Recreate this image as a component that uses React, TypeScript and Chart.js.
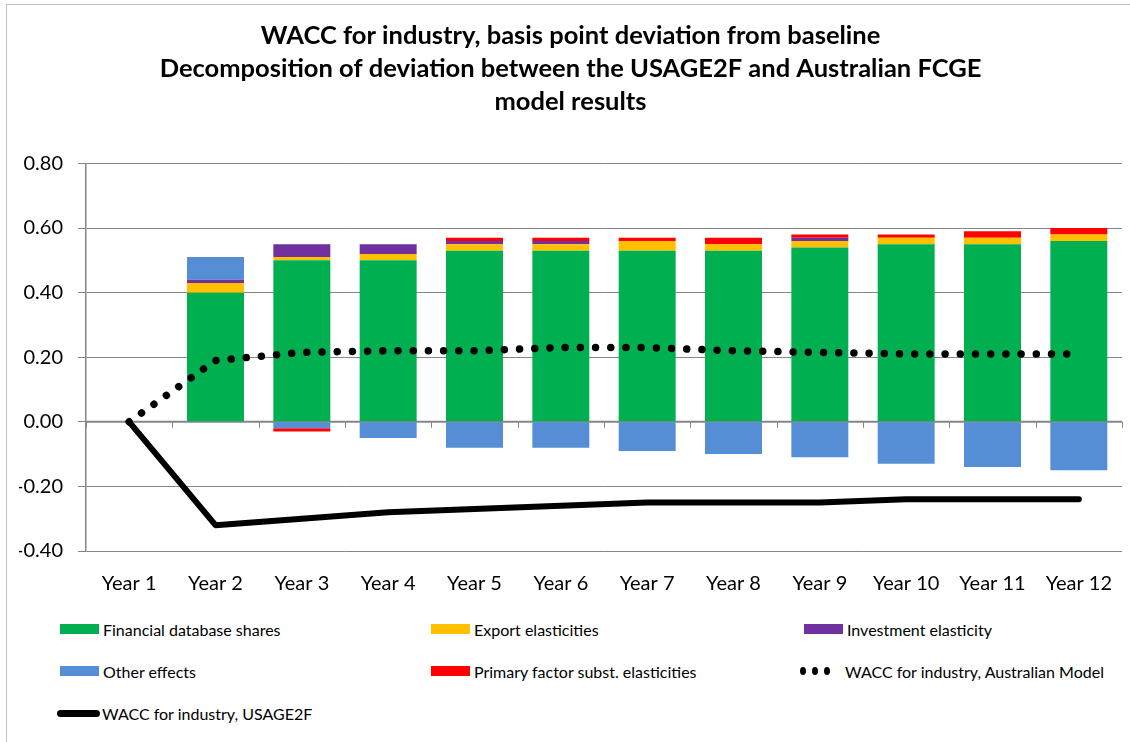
import React, { useEffect, useRef } from "react";
import { Chart, registerables } from "chart.js";

Chart.register(...registerables);

const categories = ["Year 1", "Year 2", "Year 3", "Year 4", "Year 5", "Year 6", "Year 7", "Year 8", "Year 9", "Year 10", "Year 11", "Year 12"];

const financialShares = [0, 0.40, 0.50, 0.50, 0.53, 0.53, 0.53, 0.53, 0.54, 0.55, 0.55, 0.56];
const exportElast = [0, 0.03, 0.01, 0.02, 0.02, 0.02, 0.03, 0.02, 0.02, 0.02, 0.02, 0.02];
const investElast = [0, 0.01, 0.04, 0.03, 0.01, 0.01, 0, 0, 0.01, 0, 0, 0];
const otherEffects = [0, 0.07, -0.02, -0.05, -0.08, -0.08, -0.09, -0.10, -0.11, -0.13, -0.14, -0.15];
const primaryFactor = [0, 0, -0.01, 0, 0.01, 0.01, 0.01, 0.02, 0.01, 0.01, 0.02, 0.02];
const waccAustralian = [0, 0.19, 0.215, 0.22, 0.22, 0.23, 0.23, 0.22, 0.215, 0.21, 0.21, 0.21];
const waccUsage2f = [0, -0.32, -0.30, -0.28, -0.27, -0.26, -0.25, -0.25, -0.25, -0.24, -0.24, -0.24];

const yTicks = [0.8, 0.6, 0.4, 0.2, 0, -0.2, -0.4];

const titleLines = [
  "WACC for industry, basis point deviation from baseline",
  "Decomposition of deviation between the USAGE2F and Australian FCGE",
  "model results",
];

const COLORS = {
  green: "#00B050",
  yellow: "#FFC000",
  purple: "#7030A0",
  blue: "#558ED5",
  red: "#FF0000",
};

const FONT = "Lato, 'Open Sans', sans-serif";

const zeroAxisPlugin = {
  id: "zeroAxis",
  beforeDatasetsDraw(chart: any) {
    const { ctx, chartArea, scales } = chart;
    const y0 = scales.y.getPixelForValue(0);
    ctx.save();
    ctx.strokeStyle = "#868686";
    ctx.lineWidth = 2;
    ctx.beginPath();
    ctx.moveTo(chartArea.left, y0);
    ctx.lineTo(chartArea.right, y0);
    ctx.stroke();
    ctx.lineWidth = 1;
    const xs = scales.x;
    for (let i = 0; i <= categories.length; i++) {
      const px = Math.round(xs.getPixelForValue(i - 0.5)) + 0.5;
      ctx.beginPath();
      ctx.moveTo(px, y0);
      ctx.lineTo(px, y0 + 6);
      ctx.stroke();
    }
    ctx.restore();
  },
};

type LegendItem = { label: string; kind: "box" | "dots" | "line"; color: string; x: number; y: number };

const legendItems: LegendItem[] = [
  { label: "Financial database shares", kind: "box", color: COLORS.green, x: 60, y: 629 },
  { label: "Export elasticities", kind: "box", color: COLORS.yellow, x: 431, y: 629 },
  { label: "Investment elasticity", kind: "box", color: COLORS.purple, x: 804, y: 629 },
  { label: "Other effects", kind: "box", color: COLORS.blue, x: 60, y: 671 },
  { label: "Primary factor subst. elasticities", kind: "box", color: COLORS.red, x: 431, y: 671 },
  { label: "WACC for industry, Australian Model", kind: "dots", color: "#000", x: 800, y: 671 },
  { label: "WACC for industry, USAGE2F", kind: "line", color: "#000", x: 57, y: 713 },
];

function Swatch({ item }: { item: LegendItem }) {
  if (item.kind === "box") {
    return <div style={{ width: 39, height: 10, background: item.color, marginRight: 4 }} />;
  }
  if (item.kind === "line") {
    return <div style={{ width: 43, height: 7, background: item.color, borderRadius: 4, marginRight: 2 }} />;
  }
  return (
    <div style={{ display: "flex", width: 42, justifyContent: "flex-start", gap: 6, marginRight: 3 }}>
      {[0, 1, 2].map((i) => (
        <div key={i} style={{ width: 6, height: 8, borderRadius: "50%", background: "#000" }} />
      ))}
    </div>
  );
}

export default function App() {
  const canvasRef = useRef<HTMLCanvasElement | null>(null);

  useEffect(() => {
    document.body.style.margin = "0";
    const canvas = canvasRef.current;
    if (!canvas) return;
    const chart = new Chart(canvas, {
      type: "bar",
      data: {
        labels: categories,
        datasets: [
          { type: "line", label: "WACC for industry, Australian Model", data: waccAustralian, borderColor: "#000", backgroundColor: "#000", borderWidth: 7.5, borderDash: [0.001, 15.2], borderCapStyle: "round", pointRadius: 0, tension: 0, stack: "l1", order: 0 } as any,
          { type: "line", label: "WACC for industry, USAGE2F", data: waccUsage2f, borderColor: "#000", backgroundColor: "#000", borderWidth: 6, pointRadius: 0, tension: 0, stack: "l2", order: 0, borderJoinStyle: "round", borderCapStyle: "round" } as any,
          { label: "Financial database shares", data: financialShares, backgroundColor: COLORS.green, stack: "bars", order: 1 },
          { label: "Export elasticities", data: exportElast, backgroundColor: COLORS.yellow, stack: "bars", order: 1 },
          { label: "Investment elasticity", data: investElast, backgroundColor: COLORS.purple, stack: "bars", order: 1 },
          { label: "Other effects", data: otherEffects, backgroundColor: COLORS.blue, stack: "bars", order: 1 },
          { label: "Primary factor subst. elasticities", data: primaryFactor, backgroundColor: COLORS.red, stack: "bars", order: 1 },
        ],
      },
      options: {
        animation: false,
        responsive: false,
        maintainAspectRatio: false,
        layout: { padding: { left: 19, right: 8, top: 0, bottom: 0 } },
        datasets: { bar: { categoryPercentage: 1, barPercentage: 0.66 } } as any,
        plugins: {
          legend: { display: false },
          tooltip: { enabled: false },
          title: {
            display: true,
            text: titleLines,
            color: "#000",
            font: { family: FONT, size: 25.5, weight: "bold", lineHeight: 1.3 },
            padding: { top: 19, bottom: 45 },
          },
        },
        scales: {
          x: {
            stacked: true,
            grid: { display: false },
            border: { display: false },
            afterFit: (scale: any) => {
              scale.height = 59;
            },
            ticks: { color: "#000", font: { family: FONT, size: 20 }, padding: 13, maxRotation: 0, autoSkip: false },
          },
          y: {
            stacked: true,
            min: -0.4,
            max: 0.8,
            afterBuildTicks: (scale: any) => {
              scale.ticks = yTicks.map((v) => ({ value: v }));
            },
            afterFit: (scale: any) => {
              scale.width = 67;
            },
            grid: { color: "#868686", lineWidth: 1, tickLength: 8, drawTicks: true },
            border: { display: true, color: "#868686", width: 1.5 },
            ticks: {
              color: "#000",
              font: { family: FONT, size: 20 },
              padding: 15,
              callback: (v: any) => Number(v).toFixed(2),
            },
          },
        },
      },
      plugins: [zeroAxisPlugin],
    });
    return () => chart.destroy();
  }, []);

  return (
    <div style={{ position: "fixed", left: 0, top: 0, width: 1130, height: 742, background: "#fff", overflow: "hidden", fontFamily: FONT }}>
      <div style={{ position: "absolute", left: 6, top: 4, width: 1200, height: 800, border: "1.5px solid #BFBFBF" }} />
      <canvas ref={canvasRef} width={1130} height={610} style={{ position: "absolute", left: 0, top: 0, width: 1130, height: 610 }} />
      {legendItems.map((it) => (
        <div key={it.label} style={{ position: "absolute", left: it.x, top: it.y - 10, height: 20, display: "flex", alignItems: "center", fontSize: 16, color: "#000", whiteSpace: "nowrap" }}>
          <Swatch item={it} />
          <span>{it.label}</span>
        </div>
      ))}
    </div>
  );
}
